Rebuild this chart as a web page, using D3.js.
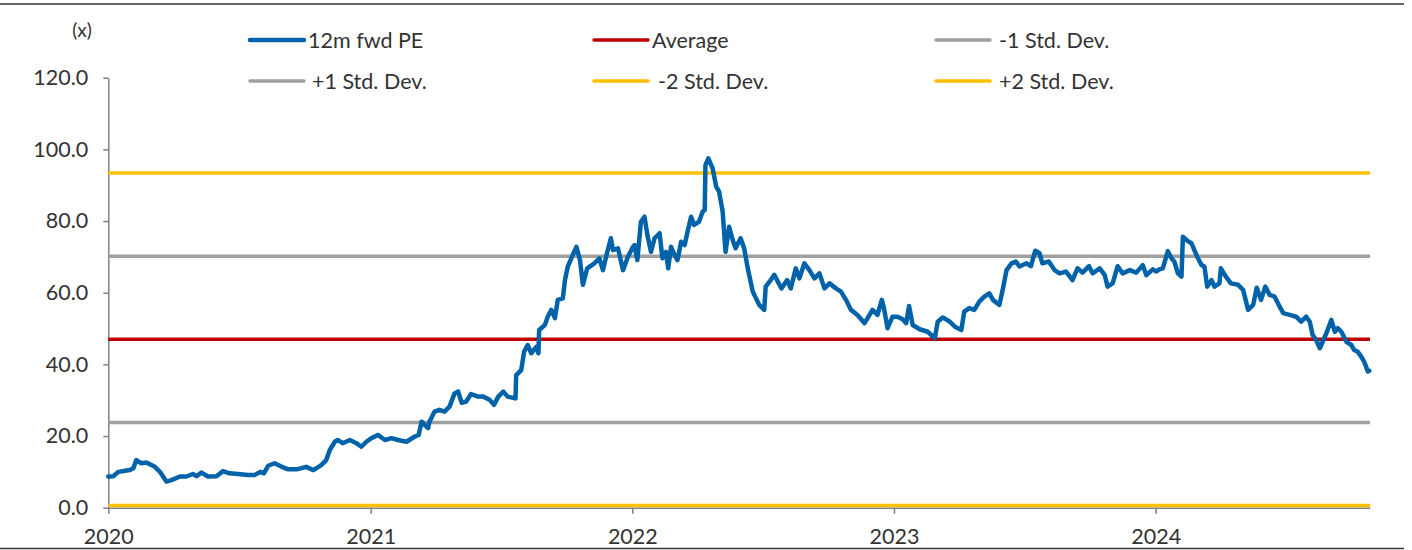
<!DOCTYPE html>
<html>
<head>
    <meta charset="utf-8">
    <title>12m fwd PE</title>
    <script src="https://d3js.org/d3.v7.min.js"></script>
    <style>
        body { margin: 0; background: #fff; }
        text { font-family: Lato, "Open Sans", sans-serif; fill: #333; }
    </style>
</head>
<body>
    <script>
        // 12m forward PE readings (date, value)
        var peDates = [
            "2020-01-01","2020-01-08","2020-01-15","2020-01-31","2020-02-05","2020-02-09","2020-02-16","2020-02-23",
            "2020-03-06","2020-03-13","2020-03-22","2020-03-29","2020-04-10","2020-04-19","2020-04-28","2020-05-03",
            "2020-05-10","2020-05-19","2020-05-31","2020-06-09","2020-06-18","2020-06-30","2020-07-14","2020-07-23",
            "2020-07-31","2020-08-05","2020-08-11","2020-08-20","2020-08-30","2020-09-08","2020-09-20","2020-10-03",
            "2020-10-13","2020-10-24","2020-10-31","2020-11-05","2020-11-12","2020-11-16","2020-11-23","2020-12-03",
            "2020-12-12","2020-12-19","2020-12-26",
            "2021-01-02","2021-01-11","2021-01-21","2021-01-30","2021-02-08","2021-02-20","2021-03-03","2021-03-09",
            "2021-03-13","2021-03-22","2021-03-24","2021-03-31","2021-04-07","2021-04-14","2021-04-21","2021-04-28",
            "2021-05-03","2021-05-08","2021-05-14","2021-05-21","2021-05-31","2021-06-07","2021-06-16","2021-06-22",
            "2021-06-28","2021-07-05","2021-07-11","2021-07-22","2021-07-23","2021-07-30","2021-08-03","2021-08-08",
            "2021-08-13","2021-08-20","2021-08-23","2021-08-24","2021-09-01","2021-09-05","2021-09-10","2021-09-15",
            "2021-09-19","2021-09-26","2021-09-29","2021-10-03","2021-10-10","2021-10-15","2021-10-20","2021-10-24",
            "2021-10-30","2021-11-09","2021-11-16","2021-11-21","2021-11-26","2021-12-02","2021-12-05","2021-12-12",
            "2021-12-19","2021-12-26",
            "2022-01-02","2022-01-04","2022-01-08","2022-01-13","2022-01-18","2022-01-22","2022-01-27","2022-02-01",
            "2022-02-08","2022-02-12","2022-02-17","2022-02-20","2022-02-24","2022-03-01","2022-03-05","2022-03-10",
            "2022-03-15","2022-03-19","2022-03-24","2022-03-28","2022-04-04","2022-04-09","2022-04-12","2022-04-13",
            "2022-04-17","2022-04-23","2022-04-28","2022-05-02","2022-05-07","2022-05-11","2022-05-16","2022-05-21",
            "2022-05-25","2022-06-01","2022-06-06","2022-06-11","2022-06-18","2022-06-27","2022-07-04","2022-07-06",
            "2022-07-13","2022-07-18","2022-07-23","2022-07-28","2022-08-05","2022-08-10","2022-08-17","2022-08-22",
            "2022-08-29","2022-09-05","2022-09-12","2022-09-19","2022-09-26","2022-10-03","2022-10-12","2022-10-19",
            "2022-10-26","2022-11-02","2022-11-11","2022-11-21","2022-12-02","2022-12-09","2022-12-15","2022-12-18",
            "2022-12-23","2022-12-30",
            "2023-01-06","2023-01-13","2023-01-18","2023-01-22","2023-01-27","2023-02-06","2023-02-17","2023-02-27",
            "2023-03-03","2023-03-10","2023-03-20","2023-03-27","2023-04-05","2023-04-09","2023-04-16","2023-04-23",
            "2023-04-30","2023-05-07","2023-05-14","2023-05-19","2023-05-28","2023-06-02","2023-06-07","2023-06-14",
            "2023-06-20","2023-06-25","2023-07-05","2023-07-11","2023-07-17","2023-07-23","2023-07-27","2023-08-05",
            "2023-08-13","2023-08-20","2023-08-29","2023-09-07","2023-09-14","2023-09-21","2023-09-30","2023-10-05",
            "2023-10-15","2023-10-22","2023-10-26","2023-11-02","2023-11-09","2023-11-16","2023-11-26","2023-12-05",
            "2023-12-14","2023-12-19","2023-12-28",
            "2024-01-02","2024-01-06","2024-01-11","2024-01-18","2024-01-23","2024-01-27","2024-02-01","2024-02-06",
            "2024-02-08","2024-02-15","2024-02-20","2024-02-24","2024-02-29","2024-03-05","2024-03-09","2024-03-13",
            "2024-03-19","2024-03-23","2024-03-30","2024-04-01","2024-04-08","2024-04-15","2024-04-25","2024-05-02",
            "2024-05-09","2024-05-16","2024-05-21","2024-05-27","2024-06-02","2024-06-08","2024-06-15","2024-06-22",
            "2024-06-27","2024-07-06","2024-07-15","2024-07-22","2024-07-29","2024-08-03","2024-08-07","2024-08-12",
            "2024-08-17","2024-08-21","2024-08-27","2024-09-02","2024-09-07","2024-09-11","2024-09-16","2024-09-23",
            "2024-09-30","2024-10-04","2024-10-09","2024-10-14","2024-10-18","2024-10-23","2024-10-25"
        ];
        var peValues = [
            8.7,8.8,10.0,10.5,11.0,13.3,12.4,12.6,
            11.4,10.0,7.3,7.7,8.7,8.7,9.4,8.8,
            9.8,8.7,8.8,10.2,9.6,9.4,9.1,9.1,
            10.0,9.6,11.7,12.4,11.4,10.7,10.7,11.4,
            10.5,11.9,13.3,16.1,18.4,18.9,18.0,18.9,
            18.0,17.0,18.4,
            19.4,20.3,18.9,19.4,18.9,18.4,19.8,20.3,
            24.0,22.2,24.0,26.8,27.3,26.8,28.2,31.9,
            32.4,29.3,29.6,31.7,31.0,31.0,30.1,28.7,
            31.0,32.4,31.0,30.5,37.0,38.4,43.5,45.4,
            43.1,44.9,43.1,49.6,51.0,53.3,55.2,52.9,
            58.0,58.4,63.5,67.3,70.6,72.8,69.1,62.2,
            66.8,68.2,69.6,66.3,70.5,75.2,71.9,72.4,
            66.3,70.1,
            72.8,73.3,69.1,79.8,81.2,76.1,71.4,75.2,
            76.6,69.6,71.4,66.8,72.8,70.5,69.1,74.2,
            73.3,77.0,81.2,78.9,79.8,82.6,83.1,95.6,
            97.5,94.7,89.6,88.2,82.6,71.4,78.4,74.7,
            72.4,75.2,72.4,66.8,60.3,56.6,55.2,61.7,
            63.5,65.0,63.1,61.2,63.5,61.2,66.8,64.0,
            68.2,66.3,64.0,65.4,61.2,62.6,61.2,60.3,
            58.0,55.2,53.8,51.5,55.2,53.8,58.0,55.7,
            50.1,53.3,
            53.3,52.6,51.5,56.3,51.0,49.8,49.1,47.3,
            51.9,53.1,51.9,50.5,49.6,54.7,55.7,55.2,
            57.5,58.9,59.8,58.0,56.6,61.2,66.3,68.2,
            68.7,67.3,68.2,67.4,71.7,71.0,68.2,68.7,
            66.3,65.4,65.9,63.5,66.8,65.6,67.4,65.4,
            66.8,64.9,61.7,62.6,67.4,65.4,66.3,65.6,
            67.7,64.9,66.5,
            65.9,66.5,66.8,71.6,69.6,68.7,65.4,64.5,
            75.6,74.4,73.8,71.9,69.6,67.7,67.3,61.7,
            63.5,61.7,62.6,66.8,64.5,62.6,62.2,60.8,
            55.2,56.6,61.4,58.0,61.7,59.4,58.9,56.1,
            54.3,53.8,53.3,51.9,53.3,51.9,48.2,46.8,
            44.5,46.3,49.1,52.4,49.1,50.1,49.1,46.3,
            45.4,44.0,43.5,42.1,40.7,38.0,38.2
        ];

        // reference levels
        var average = 47.0;
        var stdDev = 23.2;
        var levels = [
            { name: "-2 Std. Dev.", value: average - 2 * stdDev, color: "#FFC000" },
            { name: "-1 Std. Dev.", value: average - stdDev, color: "#A0A0A0" },
            { name: "Average", value: average, color: "#C00000" },
            { name: "+1 Std. Dev.", value: average + stdDev, color: "#A0A0A0" },
            { name: "+2 Std. Dev.", value: average + 2 * stdDev, color: "#FFC000" }
        ];
        var yTicks = [0, 20, 40, 60, 80, 100, 120];
        var xTicks = ["2020-01-01", "2021-01-01", "2022-01-01", "2023-01-01", "2024-01-01"];

        var legendItems = [
            { label: "12m fwd PE", color: "#0062A8", col: 0, row: 0, gap: 4 },
            { label: "Average", color: "#C00000", col: 1, row: 0, gap: 4 },
            { label: "-1 Std. Dev.", color: "#A0A0A0", col: 2, row: 0, gap: 9 },
            { label: "+1 Std. Dev.", color: "#A0A0A0", col: 0, row: 1, gap: 8 },
            { label: "-2 Std. Dev.", color: "#FFC000", col: 1, row: 1, gap: 10 },
            { label: "+2 Std. Dev.", color: "#FFC000", col: 2, row: 1, gap: 9 }
        ];

        var width = 1412, height = 550;
        var plotLeft = 108.3, plotRight = 1370, plotTop = 77.7, plotBottom = 507.7;
        var fontSize = "21.5px";
        var parse = d3.timeParse("%Y-%m-%d");

        var data = peDates.map(function(d, i) { return { date: parse(d), value: peValues[i] }; });

        var x = d3.scaleTime()
            .domain([parse("2020-01-01"), parse("2024-10-26")])
            .range([plotLeft, plotRight]);
        var y = d3.scaleLinear().domain([0, 120]).range([plotBottom, plotTop]);

        var svg = d3.select("body").append("svg")
            .attr("width", width)
            .attr("height", height);

        // frame lines top and bottom
        svg.append("line").attr("x1", 0).attr("x2", 1404).attr("y1", 4).attr("y2", 4)
            .attr("stroke", "#333").attr("stroke-width", 1.5);
        svg.append("line").attr("x1", 0).attr("x2", 1404).attr("y1", 548.5).attr("y2", 548.5)
            .attr("stroke", "#333").attr("stroke-width", 1.5);

        // y axis
        var yAxis = svg.append("g")
            .attr("transform", "translate(" + plotLeft + ",0)")
            .call(d3.axisLeft(y).tickValues(yTicks).tickSize(5).tickSizeOuter(0).tickPadding(15)
                .tickFormat(d3.format(".1f")));
        yAxis.select(".domain").attr("stroke", "#808080").attr("stroke-width", 1.5);
        yAxis.selectAll(".tick line").attr("stroke", "#808080").attr("stroke-width", 1.5);
        yAxis.selectAll("text").style("font-size", fontSize).attr("fill", "#333");

        // x axis
        var xAxis = svg.append("g")
            .attr("transform", "translate(0," + plotBottom + ")")
            .call(d3.axisBottom(x).tickValues(xTicks.map(parse)).tickSize(6).tickSizeOuter(0).tickPadding(15)
                .tickFormat(d3.timeFormat("%Y")));
        xAxis.select(".domain").attr("stroke", "#808080").attr("stroke-width", 1.5);
        xAxis.selectAll(".tick line").attr("stroke", "#808080").attr("stroke-width", 1.5);
        xAxis.selectAll("text").style("font-size", fontSize).attr("fill", "#333");

        svg.append("text").attr("x", 82).attr("y", 37)
            .attr("text-anchor", "middle").style("font-size", "19px").text("(x)");

        // reference lines
        svg.selectAll(".level")
            .data(levels)
            .enter().append("line")
            .attr("class", "level")
            .attr("x1", plotLeft).attr("x2", plotRight)
            .attr("y1", function(d) { return y(d.value); })
            .attr("y2", function(d) { return y(d.value); })
            .attr("stroke", function(d) { return d.color; })
            .attr("stroke-width", 3.5);

        // PE line
        var line = d3.line()
            .x(function(d) { return x(d.date); })
            .y(function(d) { return y(d.value); });
        svg.append("path")
            .datum(data)
            .attr("d", line)
            .attr("fill", "none")
            .attr("stroke", "#0062A8")
            .attr("stroke-width", 4.5)
            .attr("stroke-linejoin", "round")
            .attr("stroke-linecap", "round");

        // legend
        var colX = [250, 594, 936], rowY = [40, 81];
        var lg = svg.selectAll(".lg").data(legendItems).enter().append("g")
            .attr("transform", function(d) { return "translate(" + colX[d.col] + "," + rowY[d.row] + ")"; });
        lg.append("line").attr("x1", 0).attr("x2", 54).attr("y1", 0).attr("y2", 0)
            .attr("stroke", function(d) { return d.color; })
            .attr("stroke-width", function(d) { return d.label === "12m fwd PE" ? 4.5 : 3.5; })
            .attr("stroke-linecap", "round");
        lg.append("text")
            .attr("x", function(d) { return 54 + d.gap; })
            .attr("y", 7.5)
            .style("font-size", fontSize)
            .text(function(d) { return d.label; });
    </script>
</body>
</html>
